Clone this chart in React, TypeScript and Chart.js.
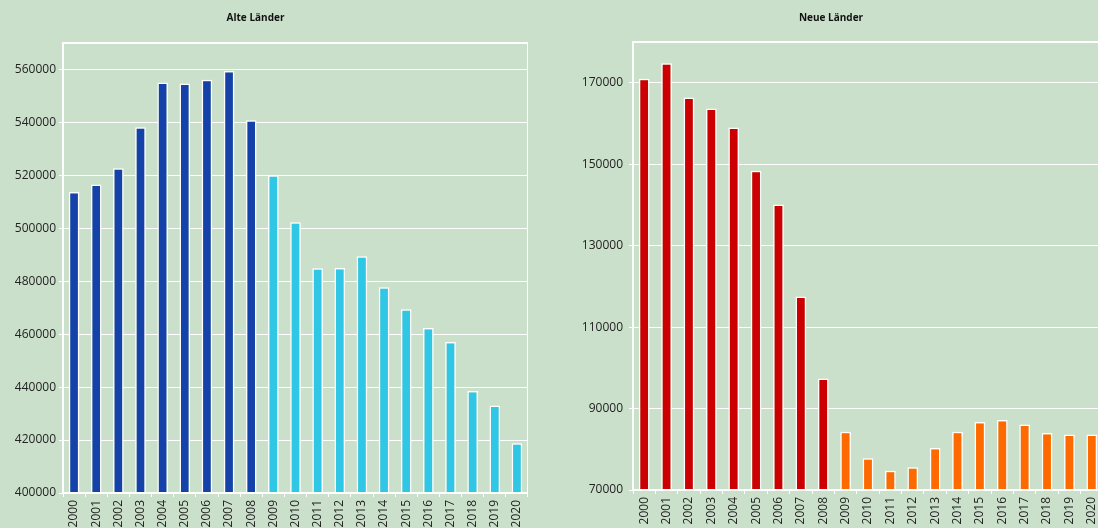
import React, { useEffect, useRef } from "react";
import { Chart, registerables } from "chart.js";

Chart.register(...registerables);

const years = [
  "2000", "2001", "2002", "2003", "2004", "2005", "2006", "2007", "2008", "2009", "2010",
  "2011", "2012", "2013", "2014", "2015", "2016", "2017", "2018", "2019", "2020",
];

const alteValues = [
  513700, 516500, 522700, 538200, 555100, 554700, 556100, 559400, 540800, 520000, 502300,
  484900, 485000, 489400, 477700, 469400, 462300, 457000, 438500, 433100, 418750,
];

const neueValues = [
  171000, 174800, 166400, 163700, 159000, 148400, 140100, 117500, 97400, 84300, 77800,
  74700, 75600, 80300, 84300, 86700, 87200, 86100, 84000, 83650, 83600,
];

const alteTicks = [400000, 420000, 440000, 460000, 480000, 500000, 520000, 540000, 560000];
const neueTicks = [70000, 90000, 110000, 130000, 150000, 170000];

const splitYear = "2009";
const FONT = "'Open Sans', 'DejaVu Sans', sans-serif";

type PanelProps = {
  title: string;
  values: number[];
  ticks: number[];
  min: number;
  max: number;
  dark: string;
  light: string;
  left: number;
  width: number;
  height: number;
  yWidth: number;
  xHeight: number;
  titleBottom: number;
  tickPad: number;
};

function BarPanel(p: PanelProps) {
  const ref = useRef<HTMLCanvasElement>(null);
  useEffect(() => {
    if (!ref.current) return;
    const splitIndex = years.indexOf(splitYear);
    const colors = p.values.map((_, i) => (i < splitIndex ? p.dark : p.light));
    const frame = {
      id: "frame",
      afterDatasetsDraw(chart: any) {
        const { ctx, chartArea: a } = chart;
        ctx.save();
        ctx.strokeStyle = "#ffffff";
        ctx.lineWidth = 2;
        ctx.strokeRect(a.left, a.top, a.right - a.left, a.bottom - a.top);
        ctx.restore();
      },
    };
    const chart = new Chart(ref.current, {
      type: "bar",
      data: {
        labels: years,
        datasets: [
          {
            data: p.values,
            backgroundColor: colors,
            borderColor: "#ffffff",
            borderWidth: 1.5,
            barPercentage: 0.48,
            categoryPercentage: 1,
          },
        ],
      },
      options: {
        animation: false,
        responsive: false,
        maintainAspectRatio: false,
        layout: { padding: 0 },
        plugins: {
          legend: { display: false },
          tooltip: { enabled: false },
          title: {
            display: true,
            text: p.title,
            color: "#111111",
            font: { family: FONT, size: 10, weight: "bold" },
            padding: { top: 12, bottom: p.titleBottom },
          },
        },
        scales: {
          x: {
            grid: {
              display: true,
              drawOnChartArea: false,
              drawTicks: true,
              tickLength: 4,
              color: "#ffffff",
              offset: true,
            },
            border: { display: false },
            ticks: {
              minRotation: 90,
              maxRotation: 90,
              autoSkip: false,
              padding: 3,
              color: "#222222",
              font: { family: FONT, size: 12 },
            },
            afterFit: (s: any) => {
              s.height = p.xHeight;
              s.paddingLeft = 0;
              s.paddingRight = 0;
            },
          },
          y: {
            min: p.min,
            max: p.max,
            afterBuildTicks: (s: any) => {
              s.ticks = p.ticks.map((v) => ({ value: v }));
            },
            grid: { color: "#ffffff", lineWidth: 1, tickLength: 4 },
            border: { display: false },
            ticks: {
              padding: p.tickPad,
              color: "#222222",
              font: { family: FONT, size: 12 },
              callback: (v: any) => String(v),
            },
            afterFit: (s: any) => {
              s.width = p.yWidth;
            },
          },
        },
      },
      plugins: [frame],
    });
    return () => chart.destroy();
  }, []);
  return (
    <canvas
      ref={ref}
      width={p.width}
      height={p.height}
      style={{ position: "absolute", left: p.left, top: 0, width: p.width, height: p.height }}
    />
  );
}

export default function App() {
  return (
    <div
      style={{
        position: "fixed",
        left: 0,
        top: 0,
        width: 1098,
        height: 528,
        overflow: "hidden",
        background: "#cbe0cb",
      }}
    >
      <BarPanel
        title="Alte Länder"
        values={alteValues}
        ticks={alteTicks}
        min={400000}
        max={570000}
        dark="#1442a8"
        light="#30c6e6"
        left={-17}
        width={545}
        height={528}
        yWidth={80}
        xHeight={35}
        titleBottom={19}
        tickPad={3}
      />
      <BarPanel
        title="Neue Länder"
        values={neueValues}
        ticks={neueTicks}
        min={70000}
        max={180000}
        dark="#cc0000"
        light="#ff6a00"
        left={559}
        width={544}
        height={528}
        yWidth={74}
        xHeight={38}
        titleBottom={18}
        tickPad={6}
      />
    </div>
  );
}
